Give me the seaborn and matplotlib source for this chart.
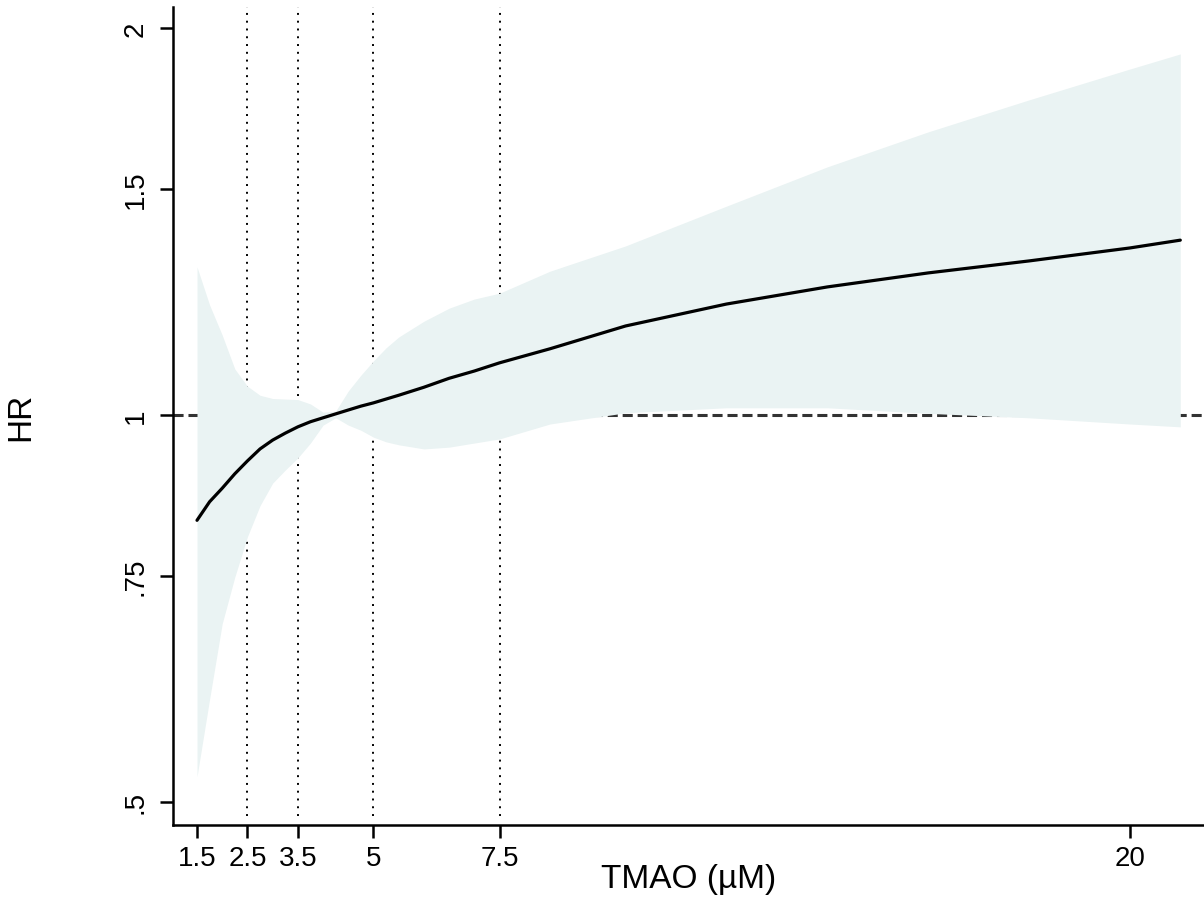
import numpy as np
import pandas as pd
import matplotlib
matplotlib.use("Agg")
import matplotlib.pyplot as plt
import seaborn as sns

# ---- data ----
tmao = [1.5, 1.75, 2.0, 2.25, 2.5, 2.75, 3.0, 3.25, 3.5, 3.75, 4.0, 4.25, 4.5, 4.75,
        5.0, 5.25, 5.5, 6.0, 6.5, 7.0, 7.5, 8.5, 10, 12, 14, 16, 18, 20, 21]
hr = [0.828, 0.856, 0.877, 0.900, 0.921, 0.941, 0.956, 0.968, 0.979, 0.988, 0.995, 1.002, 1.009, 1.016,
      1.022, 1.029, 1.036, 1.051, 1.068, 1.082, 1.098, 1.126, 1.173, 1.220, 1.258, 1.290, 1.318, 1.349, 1.368]
ci_a = [1.304, 1.218, 1.154, 1.086, 1.053, 1.036, 1.030, 1.029, 1.028, 1.020, 1.005, 1.007, 1.044, 1.074,
        1.102, 1.128, 1.150, 1.183, 1.211, 1.231, 1.244, 1.294, 1.354, 1.454, 1.560, 1.661, 1.759, 1.859, 1.910]
ci_b = [0.523, 0.601, 0.688, 0.748, 0.804, 0.850, 0.885, 0.906, 0.926, 0.951, 0.982, 0.995, 0.982, 0.973,
        0.961, 0.953, 0.948, 0.941, 0.944, 0.951, 0.958, 0.984, 1.004, 1.013, 1.013, 1.003, 0.995, 0.984, 0.979]
knots = [2.5, 3.5, 5, 7.5]
xticks = [1.5, 2.5, 3.5, 5, 7.5, 20]
xticklabels = ["1.5", "2.5", "3.5", "5", "7.5", "20"]
yticks = [0.5, 0.75, 1, 1.5, 2]
yticklabels = [".5", ".75", "1", "1.5", "2"]

df = pd.DataFrame({"TMAO": tmao, "HR": hr, "lo": ci_b, "hi": ci_a})

sns.set_style("ticks")
plt.rcParams["font.family"] = ["Liberation Sans", "DejaVu Sans"]

fig = plt.figure(figsize=(12.04, 9.12), dpi=100)
ax = fig.add_axes([173 / 1204, 86 / 912, 1 - 173 / 1204, (826 - 8) / 912])

ax.set_yscale("log")
ax.set_xlim(1.024, 21.47)
ax.set_ylim(0.4796, 2.0776)

# reference line (under band)
ax.axhline(1.0, color="#333333", lw=2.2, dashes=(3.3, 1.6), zorder=1)
# knot lines
for k in knots:
    ax.axvline(k, ymin=0.011, ymax=1, color="black", lw=1.4,
               linestyle=(0, (1.0, 3.0)), zorder=1)

ax.fill_between(df["TMAO"], df["lo"], df["hi"], color="#eaf3f3", lw=0, zorder=2)
sns.lineplot(data=df, x="TMAO", y="HR", ax=ax, color="black", lw=2.3, zorder=3)

ax.set_xticks(xticks)
ax.set_xticklabels(xticklabels, fontsize=20, color="black")
ax.set_yticks(yticks)
ax.set_yticklabels(yticklabels, fontsize=20, rotation=90, va="center", color="black")
ax.yaxis.set_minor_locator(matplotlib.ticker.NullLocator())
ax.xaxis.set_minor_locator(matplotlib.ticker.NullLocator())
ax.tick_params(axis="both", length=9.5, width=1.8, color="black", pad=5)
ax.tick_params(axis="y", pad=8)

for s in ["top", "right"]:
    ax.spines[s].set_visible(False)
for s in ["left", "bottom"]:
    ax.spines[s].set_linewidth(1.8)
    ax.spines[s].set_color("black")

ax.set_xlabel("TMAO (µM)", fontsize=24, labelpad=-6, color="black")
ax.set_ylabel("HR", fontsize=24, labelpad=62, color="black")

fig.savefig("out.png", dpi=100)
